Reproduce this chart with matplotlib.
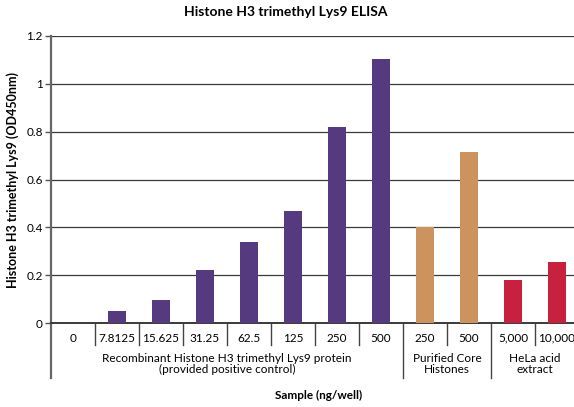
import matplotlib.pyplot as plt
import matplotlib.transforms as mtransforms

# values
labels = ["0", "7.8125", "15.625", "31.25", "62.5", "125", "250", "500",
          "250", "500", "5,000", "10,000"]
od450 = [0.0, 0.05, 0.096, 0.22, 0.338, 0.47, 0.818, 1.105,
         0.40, 0.715, 0.18, 0.255]
groups = ["Recombinant Histone H3 trimethyl Lys9 protein\n(provided positive control)",
          "Purified Core\nHistones",
          "HeLa acid\nextract"]
group_sizes = [8, 2, 2]
group_colors = ["#553a80", "#cd935f", "#c8203f"]

plt.rcParams['font.family'] = ['Lato', 'DejaVu Sans']

fig = plt.figure(figsize=(5.74, 4.07), dpi=100)
ax = fig.add_axes([51 / 574, 84 / 407, 1 - 51 / 574 + 5 / 574, 287 / 407])

colors = []
for c, n in zip(group_colors, group_sizes):
    colors += [c] * n

x = list(range(len(labels)))
ax.bar(x, od450, width=0.41, color=colors, zorder=3)

ax.set_ylim(0, 1.2)
ax.set_xlim(-0.5, len(labels) - 0.5)
ax.set_yticks([0, 0.2, 0.4, 0.6, 0.8, 1.0, 1.2])
ax.set_yticklabels(["0", "0.2", "0.4", "0.6", "0.8", "1", "1.2"], fontsize=8.5)
ax.yaxis.grid(True, color="#3a3a3a", linewidth=0.9, zorder=0)
ax.tick_params(axis="y", length=4, width=1, color="#555555", pad=2)
ax.set_xticks([])

for s in ["top", "right"]:
    ax.spines[s].set_visible(False)
ax.spines["left"].set_color("#666666")
ax.spines["left"].set_linewidth(1.6)
ax.spines["bottom"].set_color("#3a3a3a")
ax.spines["bottom"].set_linewidth(1.4)

# category labels and separators below the axis
trans = mtransforms.blended_transform_factory(ax.transData, ax.transAxes)
ph = 1 / 287  # one pixel in axes units (vertical)
for i, lab in enumerate(labels):
    ax.text(i, -15 * ph, lab, transform=trans, ha="center", va="center", fontsize=8.5)

bounds = [0]
for n in group_sizes:
    bounds.append(bounds[-1] + n)
for i in range(1, len(labels)):
    depth = 55 if i in bounds else 22
    ax.plot([i - 0.5, i - 0.5], [0, -depth * ph], transform=trans, color="#444444",
            linewidth=1, clip_on=False)
ax.plot([-0.5, -0.5], [0, -55 * ph], transform=trans, color="#666666",
        linewidth=1.6, clip_on=False)

for g, (a, b) in zip(groups, zip(bounds[:-1], bounds[1:])):
    ax.text((a + b - 1) / 2, -41 * ph, g, transform=trans, ha="center", va="center",
            fontsize=8.5, linespacing=0.95)

ax.text(0.506, -72 * ph, "Sample (ng/well)", transform=ax.transAxes, ha="center",
        va="center", fontsize=8.5, fontweight="bold")
ax.set_ylabel("Histone H3 trimethyl Lys9 (OD450nm)", fontsize=9, fontweight="bold",
              labelpad=5)
fig.text(0.497, 1 - 12 / 407, "Histone H3 trimethyl Lys9 ELISA", ha="center", va="center",
         fontsize=10, fontweight="bold")

fig.savefig("out.png", dpi=100)
